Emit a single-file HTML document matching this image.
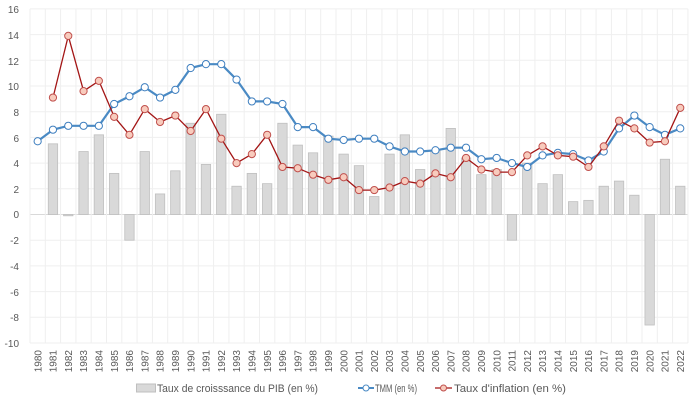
<!DOCTYPE html>
<html><head><meta charset="utf-8"><style>
html,body{margin:0;padding:0;background:#fff;}
svg{display:block;font-family:"Liberation Sans",sans-serif;}
</style></head><body>
<svg id="c" width="700" height="400" xmlns="http://www.w3.org/2000/svg">
<g id="grid"></g>
<g id="bars"></g>
<g id="lines"></g>
<g font-size="10" fill="#595959" text-anchor="end">
<text x="19" y="13">16</text><text x="19" y="39">14</text><text x="19" y="65">12</text><text x="19" y="90">10</text><text x="19" y="116">8</text><text x="19" y="142">6</text><text x="19" y="167">4</text><text x="19" y="193">2</text><text x="19" y="218">0</text><text x="19" y="244">-2</text><text x="19" y="270">-4</text><text x="19" y="296">-6</text><text x="19" y="321">-8</text><text x="19" y="347">-10</text>
</g>
<g id="years" font-size="10" fill="#595959" text-anchor="end">
<text transform="translate(41.3,350) rotate(-90)">1980</text><text transform="translate(56.6,350) rotate(-90)">1981</text><text transform="translate(71.9,350) rotate(-90)">1982</text><text transform="translate(87.2,350) rotate(-90)">1983</text><text transform="translate(102.5,350) rotate(-90)">1984</text><text transform="translate(117.8,350) rotate(-90)">1985</text><text transform="translate(133.1,350) rotate(-90)">1986</text><text transform="translate(148.4,350) rotate(-90)">1987</text><text transform="translate(163.7,350) rotate(-90)">1988</text><text transform="translate(179,350) rotate(-90)">1989</text><text transform="translate(194.3,350) rotate(-90)">1990</text><text transform="translate(209.6,350) rotate(-90)">1991</text><text transform="translate(224.9,350) rotate(-90)">1992</text><text transform="translate(240.2,350) rotate(-90)">1993</text><text transform="translate(255.5,350) rotate(-90)">1994</text><text transform="translate(270.8,350) rotate(-90)">1995</text><text transform="translate(286.1,350) rotate(-90)">1996</text><text transform="translate(301.4,350) rotate(-90)">1997</text><text transform="translate(316.7,350) rotate(-90)">1998</text><text transform="translate(332,350) rotate(-90)">1999</text><text transform="translate(347.3,350) rotate(-90)">2000</text><text transform="translate(362.6,350) rotate(-90)">2001</text><text transform="translate(377.9,350) rotate(-90)">2002</text><text transform="translate(393.2,350) rotate(-90)">2003</text><text transform="translate(408.5,350) rotate(-90)">2004</text><text transform="translate(423.8,350) rotate(-90)">2005</text><text transform="translate(439.1,350) rotate(-90)">2006</text><text transform="translate(454.4,350) rotate(-90)">2007</text><text transform="translate(469.7,350) rotate(-90)">2008</text><text transform="translate(485,350) rotate(-90)">2009</text><text transform="translate(500.3,350) rotate(-90)">2010</text><text transform="translate(515.6,350) rotate(-90)">2011</text><text transform="translate(530.9,350) rotate(-90)">2012</text><text transform="translate(546.2,350) rotate(-90)">2013</text><text transform="translate(561.5,350) rotate(-90)">2014</text><text transform="translate(576.8,350) rotate(-90)">2015</text><text transform="translate(592.1,350) rotate(-90)">2016</text><text transform="translate(607.4,350) rotate(-90)">2017</text><text transform="translate(622.7,350) rotate(-90)">2018</text><text transform="translate(638,350) rotate(-90)">2019</text><text transform="translate(653.3,350) rotate(-90)">2020</text><text transform="translate(668.6,350) rotate(-90)">2021</text><text transform="translate(683.9,350) rotate(-90)">2022</text>
</g>
<g font-size="11" fill="#595959">
<rect x="136.5" y="384" width="19" height="8" fill="#d9d9d9" stroke="#bfbfbf"/>
<text x="157" y="392" textLength="161" lengthAdjust="spacingAndGlyphs">Taux de croisssance du PIB (en %)</text>
<line x1="358" y1="388" x2="374" y2="388" stroke="#4a8ac4" stroke-width="2"/>
<circle cx="366" cy="388" r="3" fill="#fff" stroke="#4a8ac4"/>
<text x="375" y="392" textLength="42" lengthAdjust="spacingAndGlyphs">TMM (en %)</text>
<line x1="435" y1="388" x2="452" y2="388" stroke="#a31515" stroke-width="1.2"/>
<circle cx="443.5" cy="388" r="3" fill="#f8cbbd" stroke="#c0504d"/>
<text x="454" y="392" textLength="112" lengthAdjust="spacingAndGlyphs">Taux d'inflation (en %)</text>
</g>
</svg>
<script>
var L=30,W=15.3,Z=214.5,S=12.85,NS="http://www.w3.org/2000/svg";
function el(p,t,a){var e=document.createElementNS(NS,t);for(var k in a)e.setAttribute(k,a[k]);document.getElementById(p).appendChild(e);return e;}
function y(v){return Z-S*v;}function x(i){return L+W*(i+0.5);}
for(var v=-10;v<=16;v+=2)el("grid","line",{x1:L,x2:L+43*W,y1:y(v),y2:y(v),stroke:v==0?"#d9d9d9":"#efefef","stroke-width":1});
for(var i=0;i<=43;i++)el("grid","line",{x1:L+i*W,x2:L+i*W,y1:y(16),y2:y(-10),stroke:"#efefef","stroke-width":1});
var g=[null,5.5,-0.1,4.9,6.2,3.2,-2.0,4.9,1.6,3.4,7.1,3.9,7.8,2.2,3.2,2.4,7.1,5.4,4.8,6.1,4.7,3.8,1.4,4.7,6.2,3.5,5.0,6.7,4.4,3.1,3.5,-2.0,4.0,2.4,3.1,1.0,1.1,2.2,2.6,1.5,-8.6,4.3,2.2];
var t=[5.7,6.6,6.9,6.9,6.9,8.6,9.2,9.9,9.1,9.7,11.4,11.7,11.7,10.5,8.8,8.8,8.6,6.8,6.8,5.9,5.8,5.9,5.9,5.3,4.9,4.9,5.0,5.2,5.2,4.3,4.4,4.0,3.7,4.6,4.8,4.7,4.2,4.9,6.7,7.7,6.8,6.2,6.7];
var f=[null,9.1,13.9,9.6,10.4,7.6,6.2,8.2,7.2,7.7,6.5,8.2,5.9,4.0,4.7,6.2,3.7,3.6,3.1,2.7,2.9,1.9,1.9,2.1,2.6,2.4,3.2,2.9,4.4,3.5,3.3,3.3,4.6,5.3,4.6,4.5,3.7,5.3,7.3,6.7,5.6,5.7,8.3];
g.forEach(function(v,i){if(v==null)return;var a=Math.min(y(0),y(v)),h=Math.abs(S*v);el("bars","rect",{x:x(i)-4.7,y:a,width:9.4,height:Math.max(h,1),fill:"#d9d9d9",stroke:"#bfbfbf","stroke-width":0.8});});
function line(d,c,w,fill,sc){var p=[];d.forEach(function(v,i){if(v!=null)p.push(x(i).toFixed(1)+","+y(v).toFixed(1));});
el("lines","polyline",{points:p.join(" "),fill:"none",stroke:c,"stroke-width":w,"stroke-linejoin":"round"});
d.forEach(function(v,i){if(v!=null)el("lines","circle",{cx:x(i),cy:y(v),r:3.6,fill:fill,stroke:sc,"stroke-width":1});});}
line(t,"#4a8ac4",2.2,"#fff","#3f7fbf");
line(f,"#a31515",1.3,"#f8cbbd","#c0504d");
</script>
</body></html>
